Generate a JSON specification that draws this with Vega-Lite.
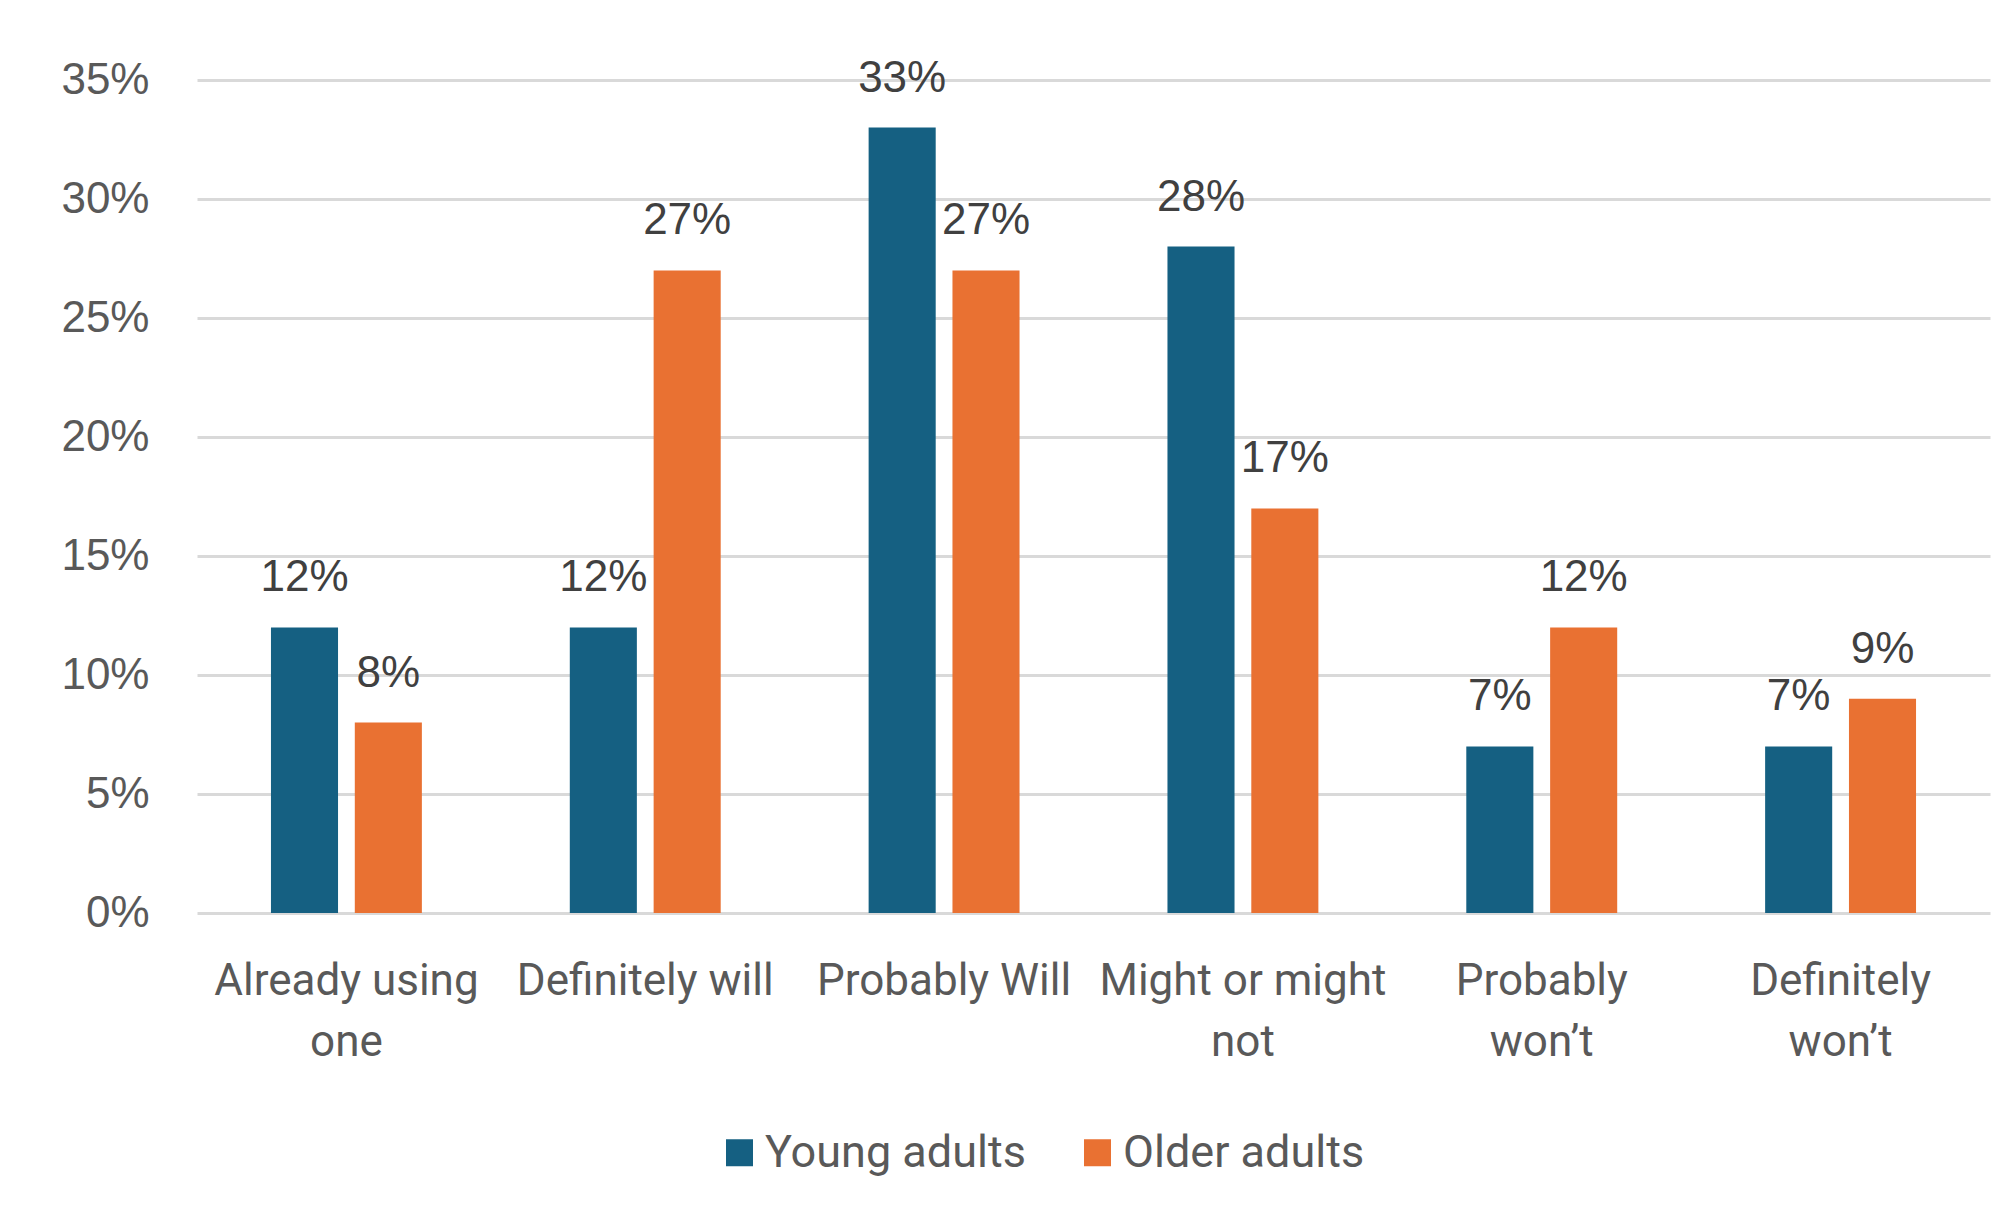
{
  "$schema": "https://vega.github.io/schema/vega-lite/v6.json",
  "width": 1793,
  "height": 833,
  "autosize": {"type": "none"},
  "padding": {"left": 197, "top": 80, "right": 4, "bottom": 305},
  "background": "white",
  "config": {"view": {"stroke": null}},
  "data": {
    "values": [
      {"category": "Already using one", "group": "Young adults", "value": 0.12},
      {"category": "Already using one", "group": "Older adults", "value": 0.08},
      {"category": "Definitely will", "group": "Young adults", "value": 0.12},
      {"category": "Definitely will", "group": "Older adults", "value": 0.27},
      {"category": "Probably Will", "group": "Young adults", "value": 0.33},
      {"category": "Probably Will", "group": "Older adults", "value": 0.27},
      {"category": "Might or might not", "group": "Young adults", "value": 0.28},
      {"category": "Might or might not", "group": "Older adults", "value": 0.17},
      {"category": "Probably won’t", "group": "Young adults", "value": 0.07},
      {"category": "Probably won’t", "group": "Older adults", "value": 0.12},
      {"category": "Definitely won’t", "group": "Young adults", "value": 0.07},
      {"category": "Definitely won’t", "group": "Older adults", "value": 0.09}
    ]
  },
  "encoding": {
    "x": {
      "field": "category",
      "type": "nominal",
      "sort": null,
      "scale": {"paddingInner": 0.495, "paddingOuter": 0.2475},
      "axis": {
        "title": null,
        "labelAngle": 0,
        "ticks": false,
        "domain": false,
        "labelFont": "Roboto",
        "labelFontSize": 44,
        "labelColor": "#595959",
        "labelPadding": 46,
        "labelLineHeight": 61,
        "labelLimit": 0,
        "labelExpr": "datum.label == 'Already using one' ? ['Already using', 'one'] : datum.label == 'Might or might not' ? ['Might or might', 'not'] : datum.label == 'Probably won’t' ? ['Probably', 'won’t'] : datum.label == 'Definitely won’t' ? ['Definitely', 'won’t'] : datum.label"
      }
    },
    "xOffset": {
      "field": "group",
      "type": "nominal",
      "sort": ["Young adults", "Older adults"],
      "scale": {"paddingInner": 0.2, "paddingOuter": 0}
    },
    "y": {
      "field": "value",
      "type": "quantitative",
      "scale": {"domain": [0, 0.35], "nice": false},
      "axis": {
        "title": null,
        "values": [0, 0.05, 0.1, 0.15, 0.2, 0.25, 0.3, 0.35],
        "format": ".0%",
        "ticks": false,
        "domain": false,
        "grid": true,
        "gridColor": "#d9d9d9",
        "gridWidth": 3,
        "labelFont": "Liberation Sans",
        "labelFontSize": 44,
        "labelColor": "#595959",
        "labelPadding": 48
      }
    }
  },
  "layer": [
    {
      "mark": {"type": "bar"},
      "encoding": {
        "color": {
          "field": "group",
          "type": "nominal",
          "sort": ["Young adults", "Older adults"],
          "scale": {"domain": ["Young adults", "Older adults"], "range": ["#156082", "#E97132"]},
          "legend": {
            "title": null,
            "orient": "none",
            "direction": "horizontal",
            "legendX": 520,
            "legendY": 1050,
            "symbolType": "square",
            "symbolSize": 729,
            "symbolStrokeWidth": 0,
            "labelFont": "Roboto",
            "labelFontSize": 45,
            "labelColor": "#595959",
            "labelOffset": 3,
            "columnPadding": 49,
            "labelLimit": 0
          }
        }
      }
    },
    {
      "mark": {"type": "text", "baseline": "alphabetic", "dy": -36, "font": "Liberation Sans", "fontSize": 44, "color": "#404040"},
      "encoding": {
        "text": {"field": "value", "type": "quantitative", "format": ".0%"}
      }
    }
  ]
}
